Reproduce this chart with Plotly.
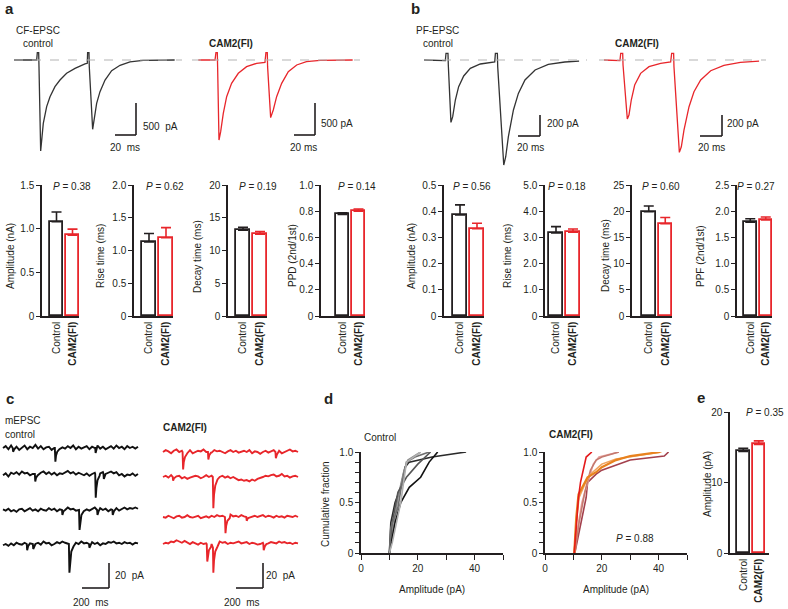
import plotly.graph_objects as go

W, H = 788, 609
FONT = "Liberation Sans, Arial, Helvetica, sans-serif"
TXT = "#231f20"
RED = "#e8262b"
GRAY_TRACE = "#333333"

# ---------------- data ----------------
GROUPS = ["Control", "<b>CAM2(FI)</b>"]

# panel a bars (control, CAM2(FI)) and SEM
A_AMP = [1.08, 0.925]; A_AMP_ERR = [0.11, 0.07]
A_RISE = [1.13, 1.195]; A_RISE_ERR = [0.13, 0.155]
A_DECAY = [13.1, 12.5]; A_DECAY_ERR = [0.45, 0.4]
A_PPD = [0.775, 0.80]; A_PPD_ERR = [0.013, 0.017]
# panel b bars
B_AMP = [0.386, 0.333]; B_AMP_ERR = [0.038, 0.021]
B_RISE = [3.17, 3.20]; B_RISE_ERR = [0.24, 0.12]
B_DECAY = [19.9, 17.6]; B_DECAY_ERR = [1.1, 1.2]
B_PPF = [1.79, 1.835]; B_PPF_ERR = [0.065, 0.055]
# panel e bars
E_AMP = [14.4, 15.4]; E_AMP_ERR = [0.45, 0.5]

P_A = ["0.38", "0.62", "0.19", "0.14"]
P_B = ["0.56", "0.18", "0.60", "0.27"]
P_D = "0.88"
P_E = "0.35"

# EPSC traces (ms, pA)
CF_CTRL_T = [0, 21.6, 22.2, 23.5, 23.8, 25.4, 26.7, 27.9, 31.1, 34.3, 39.0, 43.8, 50.1, 58.1, 67.6,
             69.8, 70.1, 71.4, 71.7, 74.9, 76.5, 78.7, 81.9, 86.7, 93.0, 101, 110.5, 123, 153]
CF_CTRL_I = [0, 0, 115, 115, -104, -1422, -1198, -990, -729, -573, -417, -313, -208, -130, -62,
             -52, 115, 115, -104, -1083, -911, -677, -495, -313, -167, -83, -31, -5, 0]
CF_CAM_T = [0, 15.9, 16.8, 18.1, 18.4, 19.7, 21.3, 23.8, 27.0, 31.7, 38.1, 46, 55.5, 63.5, 64.4,
            65.7, 66, 68.9, 71.4, 74.6, 79.4, 85.7, 93.7, 103, 116, 147]
CF_CAM_I = [0, 0, 115, 115, -104, -1250, -1120, -833, -573, -365, -208, -104, -52, -36, 115,
            115, -104, -901, -781, -573, -365, -182, -78, -26, -5, 0]
PF_CTRL_T = [0, 19.4, 20.0, 21.8, 22.1, 24.5, 26.1, 28.5, 31.5, 36.1, 42.1, 51.2, 64.3, 64.9,
             66.7, 67.0, 72.5, 74.3, 76.7, 81.3, 85.8, 91.8, 101, 113, 128, 141]
PF_CTRL_I = [0, -6, 63, 63, -48, -594, -540, -381, -254, -152, -79, -38, -19, 63,
             63, -63, -1000, -921, -730, -476, -318, -190, -95, -41, -19, -10]
PF_CAM_T = [0, 14.5, 15.2, 17.0, 17.3, 21.2, 22.7, 24.8, 27.9, 33.3, 40.9, 51.5, 60.6, 61.5,
            63.3, 63.6, 68.5, 70.3, 72.7, 77.3, 81.8, 87.9, 97, 109, 124, 141]
PF_CAM_I = [0, -6, 63, 63, -48, -562, -524, -381, -238, -127, -63, -32, -19, 63,
            63, -63, -880, -826, -667, -445, -302, -190, -102, -51, -22, -10]

# mEPSC traces: baseline readings on an even grid over 1000 ms (pA), plus events (ms, pA)
M_CTRL_BASE = [
    [0, 1.5, -1, 2, -0.5, 1, -1.5, 0.5, 2, -1, 1, 0, 2.5, -0.5, 1.5, -1, 0.5, 1, -1.5, 0, 1, -2, 0.5, -0.5, 1.5,
     0, 2, -1, 1, -0.5, 0.5, 1.5, -1, 1, 0, 2, -0.5, 1, -1, 0.5, 1.5, -0.5, 2, 0, 1, -1, 1.5, 0, 1, -0.5, 1],
    [-1, 0.5, -2, 1, 0, 1.5, -0.5, 2, 0.5, 1, -1, 0, -1.5, 0.5, 1, 2, 0, 1.5, -0.5, 1, -1, 0.5, 0, 1, 2.5,
     0.5, 1.5, -0.5, 1, 0, -1, 0.5, -1.5, 0, 1, -0.5, 0.5, 1.5, 0, 1, 2, 0.5, 1.5, -1, 0, -2, -0.5, -1, 0.5, -1.5, 0],
    [0.5, -0.5, 1, -1, 0, -1.5, 0.5, 1, -1, 0, 1.5, -0.5, 0.5, -1, 1, 0, -0.5, 1.5, 0, 1, -1, 0.5, 1.5, 0, 2,
     0.5, 1, -0.5, 0, 1, -1, 0.5, -0.5, 1, 2, 0.5, 1.5, 0, 1, -1, 0.5, 0, 1.5, -0.5, 1, 2, 0.5, 1.5, 1, 2, 1],
    [-1, 0, -1.5, 0.5, -1, 1, 0, -0.5, 1, -1, 0.5, 1.5, 0, 1, -0.5, 2, 0.5, 1, -1, 0, 1.5, 0.5, 2, 1, 0,
     1.5, -0.5, 1, 0, 2, 0.5, 1, -0.5, 1.5, 0, 1, -1, 0.5, 0, 1.5, 1, 2, 0.5, 1, 0, 1.5, 0.5, 1, -0.5, 1, 0.5],
]
M_CTRL_EVENTS = [
    [[(72, 0), (75, -3), (83, -1)], [(384, 0), (388, -11), (393, -6), (402, -3), (418, -1)],
     [(683, 0), (686, -4), (694, -1.5)]],
    [[(236, 0), (239, -6), (245, -3), (258, -1)], [(683, 0), (687, -19), (692, -11), (700, -5), (715, -1.5)],
     [(744, 0), (747, -4), (755, -1)]],
    [[(437, 0), (440, -4), (448, -1)], [(563, 0), (567, -16), (572, -9), (581, -4), (598, -1)],
     [(697, 0), (700, -4), (708, -1)], [(810, 0), (813, -4), (822, -1)]],
    [[(176, 0), (179, -5), (187, -1.5)], [(221, 0), (224, -4), (232, -1)],
     [(488, 0), (492, -23), (497, -13), (506, -6), (522, -2)], [(637, 0), (640, -3), (648, -1)]],
]
M_CAM_BASE = [
    [0, 1.5, 0.5, -1, 1, 2, 0, 1, -0.5, 0.5, 1.5, -1, 0, 1, 0.5, 2, 0, 1, -0.5, 1.5, 0.5, 1, 0, -1, 0.5,
     1.5, 0, 1, -0.5, 0.5, 1, 0, 1.5, -1, 0.5, 0, -1.5, 0, 1, -0.5, 0.5, 1.5, 0, 1, -1, 0, 1.5, 2, 0.5, 1, 0],
    [0, 1, -0.5, 1.5, 2, 0.5, 1, -1, 0, -1.5, -0.5, 0, 1, 0.5, -1, 0, 1.5, 0, 1, 0.5, 1.5, 0, 1, -0.5, 0.5,
     -1, 0, -1.5, -2.5, -2, -3, -2.5, -3.5, -2, -3, -1.5, -1, 0, 1, 0.5, 1.5, 2, 0.5, 1, 2.5, 0.5, 1, -0.5, 0.5, 1, 0],
    [0, -0.5, 1, 0, -1, 0.5, 1, -0.5, 0, 1.5, 0, -0.5, 0.5, 1, -1, 0, 0.5, -0.5, 1, 0, 1.5, 0.5, 1, 0, 1.5,
     2, 0.5, 1, 0, 1.5, 0.5, 1, -0.5, 0.5, 1, 0, 0.5, 1.5, 0, 1, 0.5, -0.5, 1, 0, 0.5, -0.5, 1, 0.5, 0, 1, 0],
    [0, 1, 0.5, 2, 1.5, 3, 2, 1, 2.5, 1, 0, 1.5, 0.5, -0.5, 1, 0, 0.5, 1.5, 0, 1, 0.5, 2, 1, 1.5, 0,
     1, 0.5, 1.5, 2, 0.5, 1, 1.5, 0, 1, 0.5, -0.5, 0, 1, 2, 0.5, 1.5, 1, 0.5, 2, 1, 1.5, 0.5, 1, 0, 1, 0.5],
]
M_CAM_EVENTS = [
    [[(145, 0), (149, -14), (154, -8), (163, -4), (180, -1)], [(333, 0), (336, -6), (343, -2.5), (355, -0.5)],
     [(833, 0), (836, -5), (844, -2), (856, 0)]],
    [[(72, 0), (75, -3), (82, -1)], [(369, 0), (373, -25), (378, -14), (387, -7), (404, -2)]],
    [[(459, 0), (463, -13), (468, -7), (477, -3), (494, -1)], [(617, 0), (620, -3), (628, -1)]],
    [[(324, 0), (328, -14), (333, -8), (340, -5), (355, -2.5)], [(370, -3), (373, -23), (378, -13), (387, -6), (404, -2)],
     [(743, 0), (746, -5), (754, -2), (766, 0)]],
]

# cumulative distributions (pA, fraction)
CDF_CTRL_X = [[10, 10.5, 12, 14, 15.5, 17, 25, 37],
              [10, 11, 13, 15, 16.5, 21],
              [10, 11, 13, 16, 20, 24.5],
              [10, 12, 14, 17, 21, 24, 27],
              [10, 10.5, 13, 14, 16, 19, 24],
              [10, 11, 12.5, 14, 15, 16, 21]]
CDF_CTRL_Y = [[0, 0.3, 0.5, 0.65, 0.85, 0.9, 0.95, 1.0],
              [0, 0.2, 0.55, 0.8, 0.92, 1.0],
              [0, 0.3, 0.6, 0.75, 0.88, 1.0],
              [0, 0.3, 0.5, 0.65, 0.75, 0.9, 1.0],
              [0, 0.25, 0.45, 0.62, 0.9, 0.95, 1.0],
              [0, 0.1, 0.3, 0.5, 0.7, 0.9, 1.0]]
CDF_CTRL_COLORS = ["#2a2a2a", "#8c8c8c", "#555555", "#111111", "#6e6e6e", "#b0b0b0"]

CDF_CAM_X = [[10.5, 12, 13, 14.5, 15, 18, 20, 30, 42, 43.5],
             [10.5, 11.5, 13, 15, 17, 19, 26],
             [10.5, 12, 14, 16, 18, 20, 26],
             [10.3, 11, 12, 14, 16, 20, 25, 35, 41],
             [10.3, 11, 11.8, 13, 15, 18, 20, 25, 30, 40.5],
             [10.3, 11, 11.8, 12.5, 13.2, 14, 14.5, 16.5]]
CDF_CAM_Y = [[0, 0.2, 0.35, 0.55, 0.7, 0.78, 0.82, 0.92, 0.96, 1.0],
             [0, 0.25, 0.5, 0.7, 0.88, 0.95, 1.0],
             [0, 0.3, 0.6, 0.82, 0.92, 0.95, 1.0],
             [0, 0.3, 0.55, 0.68, 0.78, 0.88, 0.93, 0.97, 1.0],
             [0, 0.35, 0.58, 0.65, 0.75, 0.8, 0.85, 0.92, 0.96, 1.0],
             [0, 0.3, 0.55, 0.7, 0.8, 0.9, 0.95, 1.0]]
CDF_CAM_COLORS = ["#a3404c", "#e8a4a0", "#c47a70", "#f0a35e", "#e8821e", "#e41a1c"]

# ---------------- helpers ----------------
fig = go.Figure()
axes_layout = {}
shapes = []
annotations = []
_n = [0]


def fx(x):
    return x / W


def fy(y):
    return 1 - y / H


def new_axes(x0, x1, y0, y1, xr, yr, xextra=None, yextra=None):
    _n[0] += 1
    s = "" if _n[0] == 1 else str(_n[0])
    base = dict(fixedrange=True, showgrid=False, zeroline=False, automargin=False)
    xa = dict(base, domain=[fx(x0), fx(x1)], range=xr, anchor="y" + s, visible=False)
    ya = dict(base, domain=[fy(y1), fy(y0)], range=yr, anchor="x" + s, visible=False)
    if xextra:
        xa.update(xextra)
    if yextra:
        ya.update(yextra)
    axes_layout["xaxis" + s] = xa
    axes_layout["yaxis" + s] = ya
    return "x" + s, "y" + s


def text(x, y, s, size=10, anchor="left", angle=0, color=TXT):
    annotations.append(dict(x=fx(x), y=fy(y), xref="paper", yref="paper", text=s, showarrow=False,
                            xanchor=anchor, yanchor="middle", textangle=angle, borderpad=0,
                            font=dict(family=FONT, size=size, color=color)))


class Ephys:
    def __init__(self, x0, x1, y0, y1, px_t0, py_base, ms_per_px, pa_per_px):
        self.px_t0, self.py_base, self.mpp, self.ppp = px_t0, py_base, ms_per_px, pa_per_px
        self.xa, self.ya = new_axes(x0, x1, y0, y1,
                                    [(x0 - px_t0) * ms_per_px, (x1 - px_t0) * ms_per_px],
                                    [-(y1 - py_base) * pa_per_px, -(y0 - py_base) * pa_per_px])

    def t(self, px):
        return (px - self.px_t0) * self.mpp

    def i(self, py):
        return -(py - self.py_base) * self.ppp

    def line(self, t, i, color, width=1.3):
        fig.add_trace(go.Scatter(x=t, y=i, mode="lines", line=dict(color=color, width=width),
                                 xaxis=self.xa, yaxis=self.ya, hoverinfo="skip"))

    def dashed(self, px0, px1):
        shapes.append(dict(type="line", xref=self.xa, yref=self.ya, x0=self.t(px0), x1=self.t(px1), y0=0, y1=0,
                           line=dict(color="#b4b4b4", width=1.2, dash="dash")))

    def scalebar(self, px_corner, py_corner, dt, di):
        tc, ic = self.t(px_corner), self.i(py_corner)
        ln = dict(color=TXT, width=1.6)
        shapes.append(dict(type="line", xref=self.xa, yref=self.ya, x0=tc - dt, x1=tc, y0=ic, y1=ic, line=ln))
        shapes.append(dict(type="line", xref=self.xa, yref=self.ya, x0=tc, x1=tc, y0=ic, y1=ic + di, line=ln))


def bar_chart(axis_x, ctrl_left, red_right, y_top, y_bot, ymax, tickvals, ticktext, vals, errs,
              gap=3, axis_right=None):
    w = (red_right - ctrl_left - gap) / 2
    unit = w + gap
    c0 = ctrl_left + w / 2
    right = axis_right if axis_right else red_right
    r0 = -(c0 - axis_x) / unit
    r1 = 1 + (right - (c0 + unit)) / unit
    tf = dict(family=FONT, size=10, color=TXT)
    xextra = dict(visible=True, showline=True, linecolor=TXT, linewidth=1.5, ticks="",
                  tickmode="array", tickvals=[0, 1], ticktext=GROUPS, tickangle=-90, tickfont=tf)
    yextra = dict(visible=True, showline=True, linecolor=TXT, linewidth=1.5, ticks="outside",
                  ticklen=4, tickwidth=1.2, tickcolor=TXT, tickmode="array", tickvals=tickvals,
                  ticktext=ticktext, tickfont=tf)
    xa, ya = new_axes(axis_x, right, y_top, y_bot, [r0, r1], [0, ymax], xextra, yextra)
    for k, col in enumerate([TXT, RED]):
        fig.add_trace(go.Bar(x=[k], y=[vals[k]], width=w / unit,
                             marker=dict(color="white", line=dict(color=col, width=1.8)),
                             error_y=dict(type="data", symmetric=False, array=[errs[k]], arrayminus=[0],
                                          color=col, thickness=1.6, width=5),
                             xaxis=xa, yaxis=ya, hoverinfo="skip", cliponaxis=False))
    return xa, ya


def build_mepsc(base, events):
    n = len(base)
    step = 1000.0 / (n - 1)
    wins = [(ev[0][0] - 2, ev[-1][0] + 2) for ev in events]
    pts = [(k * step, v) for k, v in enumerate(base) if not any(a <= k * step <= b for a, b in wins)]
    for ev in events:
        pts.extend(ev)
    pts.sort()
    return [p[0] for p in pts], [p[1] for p in pts]


# ---------------- panel a traces ----------------
cf_c = Ephys(8, 190, 20, 170, 14, 60, 20 / 21, 500 / 32)
cf_c.dashed(14, 182)
cf_c.line(CF_CTRL_T, CF_CTRL_I, GRAY_TRACE)
cf_c.scalebar(136, 135, 20, 500)
cf_r = Ephys(188, 365, 20, 170, 198.3, 60, 20 / 21, 500 / 32)
cf_r.dashed(192, 360)
cf_r.line(CF_CAM_T, CF_CAM_I, RED)
cf_r.scalebar(315, 135, 20, 500)

text(4, 9, "<b>a</b>", size=15)
text(38, 30, "CF-EPSC", anchor="center")
text(38, 43, "control", anchor="center")
text(231, 43, "<b>CAM2(FI)</b>", anchor="center")
text(142, 127, "500  pA")
text(125, 147, "20  ms", anchor="center")
text(320, 124, "500 pA")
text(303, 147, "20 ms", anchor="center")

# ---------------- panel b traces ----------------
pf_c = Ephys(418, 595, 20, 175, 424, 60, 20 / 22, 200 / 21)
pf_c.dashed(424, 587)
pf_c.line(PF_CTRL_T, PF_CTRL_I, GRAY_TRACE)
pf_c.scalebar(540, 136, 20, 200)
pf_r = Ephys(596, 775, 20, 175, 604, 60, 20 / 22, 200 / 21)
pf_r.dashed(599, 766)
pf_r.line(PF_CAM_T, PF_CAM_I, RED)
pf_r.scalebar(722, 136, 20, 200)

text(410, 9, "<b>b</b>", size=15)
text(437, 30, "PF-EPSC", anchor="center")
text(438, 43, "control", anchor="center")
text(637, 43, "<b>CAM2(FI)</b>", anchor="center")
text(546, 124, "200 pA")
text(530, 147, "20 ms", anchor="center")
text(726, 124, "200 pA")
text(711, 147, "20 ms", anchor="center")

# ---------------- bar charts a, b ----------------
YT, YB = 185, 316
bar_chart(42, 50, 79, YT, YB, 1.5, [0, 0.5, 1.0, 1.5], ["0", "0.5", "1.0", "1.5"], A_AMP, A_AMP_ERR)
bar_chart(134, 142, 173, YT, YB, 2.0, [0, 0.5, 1.0, 1.5, 2.0], ["0", "0.5", "1.0", "1.5", "2.0"], A_RISE, A_RISE_ERR)
bar_chart(228, 236, 267, YT, YB, 20, [0, 5, 10, 15, 20], ["0", "5", "10", "15", "20"], A_DECAY, A_DECAY_ERR)
bar_chart(321, 336, 365, YT, YB, 1.0, [0, 0.2, 0.4, 0.6, 0.8, 1.0], ["0", "0.2", "0.4", "0.6", "0.8", "1.0"], A_PPD, A_PPD_ERR)
bar_chart(444, 453, 484, YT, YB, 0.5, [0, 0.1, 0.2, 0.3, 0.4, 0.5], ["0", "0.1", "0.2", "0.3", "0.4", "0.5"], B_AMP, B_AMP_ERR)
bar_chart(545, 549, 580, YT, YB, 5.0, [0, 1, 2, 3, 4, 5], ["0", "1.0", "2.0", "3.0", "4.0", "5.0"], B_RISE, B_RISE_ERR)
bar_chart(632, 642, 672, YT, YB, 25, [0, 5, 10, 15, 20, 25], ["0", "5", "10", "15", "20", "25"], B_DECAY, B_DECAY_ERR)
bar_chart(737, 744, 772, YT, YB, 2.5, [0, 0.5, 1.0, 1.5, 2.0, 2.5], ["0", "0.5", "1.0", "1.5", "2.0", "2.5"], B_PPF, B_PPF_ERR)

for xp, p in zip([52, 145, 238, 337], P_A):
    text(xp, 186, "<i>P</i> = " + p)
for xp, p in zip([452, 547, 641, 736], P_B):
    text(xp, 186, "<i>P</i> = " + p)
for xp, t in zip([11, 101, 198, 293, 412, 508, 606, 701],
                 ["Amplitude (nA)", "Rise time (ms)", "Decay time (ms)", "PPD (2nd/1st)",
                  "Amplitude (nA)", "Rise time (ms)", "Decay time (ms)", "PPF (2nd/1st)"]):
    text(xp, 256, t, anchor="center", angle=-90)

# ---------------- panel c ----------------
CTRL_BASE_PY = [448, 474, 510, 544]
CAM_BASE_PY = [452, 477, 517, 544]
mc = Ephys(0, 145, 425, 609, 3, 448, 200 / 27, 20 / 25)
mr = Ephys(155, 305, 425, 609, 163, 448, 200 / 27, 20 / 25)
for base, ev, pyb in zip(M_CTRL_BASE, M_CTRL_EVENTS, CTRL_BASE_PY):
    t, i = build_mepsc(base, ev)
    mc.line(t, [v + mc.i(pyb) for v in i], "#111111", 1.9)
for base, ev, pyb in zip(M_CAM_BASE, M_CAM_EVENTS, CAM_BASE_PY):
    t, i = build_mepsc(base, ev)
    mr.line(t, [v + mr.i(pyb) for v in i], RED, 1.9)
mc.scalebar(109, 588, 200, 20)
mr.scalebar(263, 588, 200, 20)

text(5, 398, "<b>c</b>", size=15)
text(4, 420, "mEPSC")
text(4, 434, "control")
text(162, 427, "<b>CAM2(FI)</b>")
text(114, 575, "20  pA")
text(91, 602, "200  ms", anchor="center")
text(265, 575, "20  pA")
text(242, 602, "200  ms", anchor="center")

# ---------------- panel d ----------------
def cdf_axes(x0, x1):
    tf = dict(family=FONT, size=10, color=TXT)
    xextra = dict(visible=True, showline=True, linecolor=TXT, linewidth=1.5, ticks="outside", ticklen=5,
                  tickwidth=1.2, tickcolor=TXT, tickmode="array", tickvals=[0, 10, 20, 30, 40, 50],
                  ticktext=["0", "", "20", "", "40", ""], tickfont=tf)
    yextra = dict(visible=True, showline=True, linecolor=TXT, linewidth=1.5, ticks="outside", ticklen=4,
                  tickwidth=1.2, tickcolor=TXT, tickmode="array",
                  tickvals=[k / 10 for k in range(11)],
                  ticktext=["0", "", "", "", "", "0.5", "", "", "", "", "1.0"], tickfont=tf)
    return new_axes(x0, x1, 452, 553, [0, 50], [0, 1.0], xextra, yextra)


xa, ya = cdf_axes(361, 503)
for xs, ys, c in zip(CDF_CTRL_X, CDF_CTRL_Y, CDF_CTRL_COLORS):
    fig.add_trace(go.Scatter(x=xs, y=ys, mode="lines", line=dict(color=c, width=1.6),
                             xaxis=xa, yaxis=ya, hoverinfo="skip", cliponaxis=False))
xa, ya = cdf_axes(545, 687)
for xs, ys, c in zip(CDF_CAM_X, CDF_CAM_Y, CDF_CAM_COLORS):
    wdt = 2.2 if c == "#e8821e" else 1.6
    fig.add_trace(go.Scatter(x=xs, y=ys, mode="lines", line=dict(color=c, width=wdt),
                             xaxis=xa, yaxis=ya, hoverinfo="skip", cliponaxis=False))

text(323, 398, "<b>d</b>", size=15)
text(363, 437, "Control")
text(548, 434, "<b>CAM2(FI)</b>")
text(325, 504, "Cumulative fraction", anchor="center", angle=-90)
text(432, 589, "Amplitude (pA)", anchor="center")
text(616, 589, "Amplitude (pA)", anchor="center")
text(615, 538, "<i>P</i> = " + P_D)

# ---------------- panel e ----------------
bar_chart(730, 737, 765, 412, 553, 20, [0, 10, 20], ["0", "10", "20"], E_AMP, E_AMP_ERR, axis_right=769)
text(696, 397, "<b>e</b>", size=15)
text(745, 413, "<i>P</i> = " + P_E)
text(707, 484, "Amplitude (pA)", anchor="center", angle=-90)

fig.update_layout(
    width=W, height=H, margin=dict(l=0, r=0, t=0, b=0), template="none",
    paper_bgcolor="white", plot_bgcolor="rgba(0,0,0,0)", showlegend=False,
    font=dict(family=FONT, size=10, color=TXT),
    shapes=shapes, annotations=annotations, bargap=0, **axes_layout,
)
fig.write_html(
    "out.html",
    config={"displayModeBar": False},
    post_script="document.body.style.margin='0';document.body.style.padding='0';"
                "document.body.style.overflow='hidden';",
)
